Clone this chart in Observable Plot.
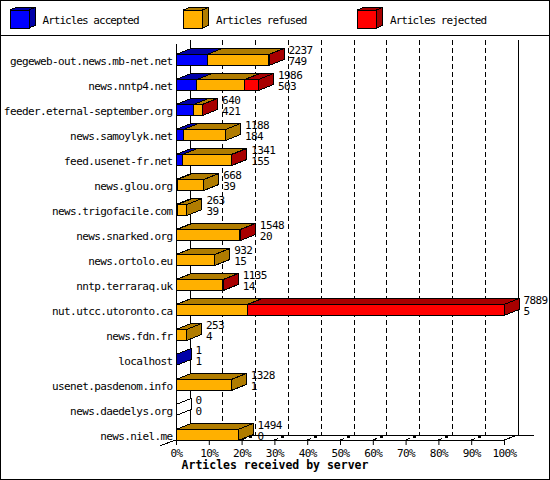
<!DOCTYPE html>
<html><head><meta charset="utf-8">
<script src="https://cdn.jsdelivr.net/npm/d3@7"></script>
<script src="https://cdn.jsdelivr.net/npm/@observablehq/plot@0.6"></script>
<style>
body{margin:0;background:#fff}
#wrap{position:relative;width:550px;height:480px;overflow:hidden;background:#fff}
#wrap svg{position:absolute;left:0;top:0}
</style></head><body><div id="wrap"></div>
<script>
const servers = ["gegeweb-out.news.mb-net.net","news.nntp4.net","feeder.eternal-september.org","news.samoylyk.net","feed.usenet-fr.net","news.glou.org","news.trigofacile.com","news.snarked.org","news.ortolo.eu","nntp.terraraq.uk","nut.utcc.utoronto.ca","news.fdn.fr","localhost","usenet.pasdenom.info","news.daedelys.org","news.niel.me"];
const totals   = [2237, 1986, 640, 1188, 1341, 668, 263, 1548, 932, 1135, 7889, 253, 1, 1328, 0, 1494];
const accepted = [749, 503, 421, 184, 155, 39, 39, 20, 15, 14, 5, 4, 1, 1, 0, 0];
const refused  = [1476, 1150, 209, 1004, 1171, 629, 224, 1518, 917, 1116, 1710, 249, 0, 1327, 0, 1494];
const rejected = [12, 333, 10, 0, 15, 0, 0, 10, 0, 5, 6174, 0, 0, 0, 0, 0];
const seriesNames = ["Articles accepted", "Articles refused", "Articles rejected"];
const frontColors = ["#0000ff", "#ffb000", "#ff0000"];
const shadeColors = ["#0000a8", "#b07c00", "#a80000"];
const xTicks = [0, 10, 20, 30, 40, 50, 60, 70, 80, 90, 100];
const xTitle = "Articles received by server";

const maxTotal = d3.max(totals);
const pct = v => v / maxTotal * 100;

const segments = [];
servers.forEach((s, i) => {
  let acc = 0;
  [accepted[i], refused[i], rejected[i]].forEach((v, k) => {
    segments.push({server: s, k, value: v, x1: pct(acc), x2: pct(acc + v), total: totals[i]});
    acc += v;
  });
});
const rows = servers.map((s, i) => ({server: s, total: totals[i], accepted: accepted[i]}));

const BDX = 15, BDY = -6;   // bar depth
const WDX = 14, WDY = -5;   // wall depth

function chrome(index, scales, values, dims) {
  const x = scales.x;
  const X0 = x(0), X1 = x(100);
  const yF = dims.height - dims.marginBottom;
  const top = 40;
  const g = d3.create("svg:g").attr("shape-rendering", "crispEdges").attr("stroke", "#000").attr("fill", "none");
  for (const t of xTicks) {
    if (t > 0 && t < 100)
      g.append("line").attr("x1", x(t) + WDX).attr("x2", x(t) + WDX).attr("y1", top).attr("y2", yF + WDY).attr("stroke-dasharray", "5,3");
  }
  g.append("line").attr("x1", X0 + WDX).attr("x2", X0 + WDX).attr("y1", top).attr("y2", yF + WDY);
  g.append("line").attr("x1", X1 + WDX).attr("x2", X1 + WDX).attr("y1", top).attr("y2", yF + WDY);
  g.append("line").attr("x1", X0 + WDX).attr("x2", X1 + WDX + 16).attr("y1", yF + WDY).attr("y2", yF + WDY);
  g.append("line").attr("x1", X0).attr("x2", X1).attr("y1", yF).attr("y2", yF);
  g.append("line").attr("x1", X0).attr("x2", X0).attr("y1", top + 4).attr("y2", yF);
  g.append("line").attr("x1", X0 - 16).attr("y1", yF + 5.7).attr("x2", X0 + WDX).attr("y2", yF + WDY);
  g.append("line").attr("x1", X1).attr("y1", yF).attr("x2", X1 + WDX).attr("y2", yF + WDY);
  for (const t of xTicks) {
    if (t > 0 && t < 100) {
      const xt = x(t);
      g.append("line").attr("x1", xt).attr("y1", yF).attr("x2", xt + 4).attr("y2", yF - 1.5);
      g.append("rect").attr("x", xt + 7).attr("y", yF - 4.5).attr("width", 3).attr("height", 2).attr("fill", "#000").attr("stroke", "none");
    }
  }
  return g.node();
}

function bars3d(index, scales, values, dims) {
  const step = (typeof scales.y === "function") ? (scales.y(servers[1]) - scales.y(servers[0])) : 25;
  const g = d3.create("svg:g").attr("shape-rendering", "crispEdges").attr("stroke", "#000");
  for (const i of index) {
    const d = segments[i];
    const drawEmpty = d.total === 0 && d.k === 0;
    if (d.value === 0 && !drawEmpty) continue;
    const x1 = values.x1[i], x2 = values.x2[i];
    const c = values.y[i] + step / 2;
    const yt = c - 6, yb = c + 5;
    const front = drawEmpty ? "#fff" : frontColors[d.k];
    const shade = drawEmpty ? "#fff" : shadeColors[d.k];
    g.append("rect").attr("x", x1).attr("y", yt).attr("width", Math.max(0, x2 - x1)).attr("height", yb - yt).attr("fill", front);
    g.append("polygon").attr("points", [[x1, yt], [x2, yt], [x2 + BDX, yt + BDY], [x1 + BDX, yt + BDY]].join(" ")).attr("fill", shade);
    g.append("polygon").attr("points", [[x2, yt], [x2 + BDX, yt + BDY], [x2 + BDX, yb + BDY], [x2, yb]].join(" ")).attr("fill", shade);
  }
  return g.node();
}

const chart = Plot.plot({
  width: 550,
  height: 480,
  marginLeft: 176,
  marginRight: 46,
  marginTop: 47.5,
  marginBottom: 40,
  x: {domain: [0, 100]},
  y: {domain: servers, padding: 0, insetBottom: -7.5, axis: null},
  style: {fontFamily: "'DejaVu Sans Mono', monospace", fontSize: "11px", letterSpacing: "-0.6px", background: "transparent", color: "#000"},
  marks: [
    chrome,
    Plot.barX(segments, {x1: "x1", x2: "x2", y: "server", render: bars3d}),
    Plot.text(servers, {x: 0, y: d => d, text: d => d, textAnchor: "end", dx: -4, fill: "#000"}),
    Plot.text(rows, {x: d => pct(d.total), y: "server", text: d => `${d.total}\n${d.accepted}`, textAnchor: "start", dx: 19, dy: -4.9, lineHeight: 0.97, fill: "#000"}),
    Plot.axisX({ticks: xTicks, tickFormat: d => d + "%", tickSize: 5, tickPadding: 4, label: null, stroke: "#000", fill: "#000"})
  ]
});
const wrap = document.getElementById("wrap");
wrap.appendChild(chart);

// overlay: frame, legend, axis title
const ov = d3.create("svg").attr("width", 550).attr("height", 480).attr("viewBox", "0 0 550 480");
ov.append("rect").attr("x", 0.5).attr("y", 0.5).attr("width", 549).attr("height", 479).attr("fill", "none").attr("stroke", "#000");
ov.append("line").attr("x1", 0).attr("x2", 550).attr("y1", 35.5).attr("y2", 35.5).attr("stroke", "#000");
const legX = [10, 183.5, 357.5];
seriesNames.forEach((name, k) => {
  const x0 = legX[k], y0 = 10, w = 19, h = 18, ddx = 6, ddy = -2.5;
  const lg = ov.append("g").attr("stroke", "#000").attr("shape-rendering", "crispEdges");
  lg.append("rect").attr("x", x0).attr("y", y0).attr("width", w).attr("height", h).attr("fill", frontColors[k]);
  lg.append("polygon").attr("points", [[x0, y0], [x0 + w, y0], [x0 + w + ddx, y0 + ddy], [x0 + ddx, y0 + ddy]].join(" ")).attr("fill", shadeColors[k]);
  lg.append("polygon").attr("points", [[x0 + w, y0], [x0 + w + ddx, y0 + ddy], [x0 + w + ddx, y0 + h + ddy], [x0 + w, y0 + h]].join(" ")).attr("fill", shadeColors[k]);
  ov.append("text").attr("x", x0 + 32.5).attr("y", 24).attr("font-family", "'DejaVu Sans Mono', monospace").attr("font-size", 11).attr("letter-spacing", "-0.97px").attr("fill", "#000").text(name);
});
ov.append("text").attr("x", 275).attr("y", 469).attr("text-anchor", "middle").attr("font-family", "'DejaVu Sans Mono', monospace").attr("font-weight", "bold").attr("font-size", 11.5).attr("fill", "#000").text(xTitle);
wrap.appendChild(ov.node());
</script></body></html>
